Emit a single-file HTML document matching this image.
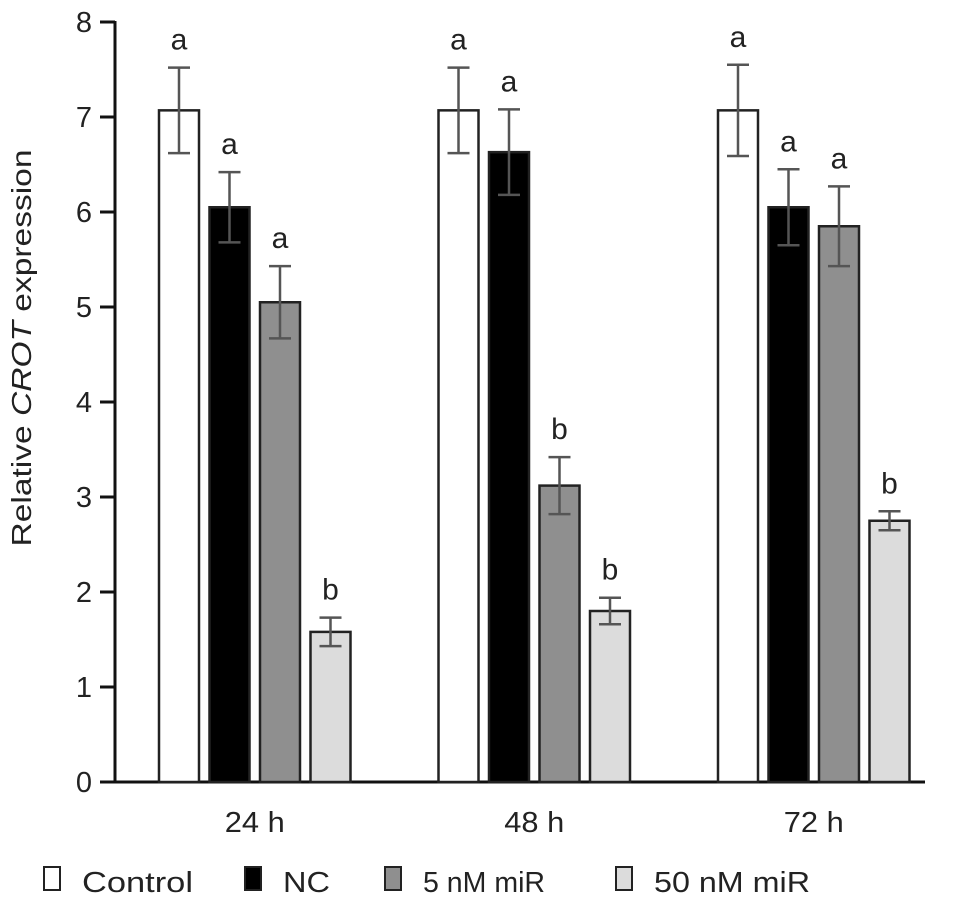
<!DOCTYPE html>
<html><head><meta charset="utf-8"><style>
body{margin:0;background:#fff}
svg text{font-family:"Liberation Sans",Arial,sans-serif;fill:#222}
</style></head><body>
<svg id="chart" width="969" height="909" xmlns="http://www.w3.org/2000/svg"></svg>
<script>
const groups=["24 h","48 h","72 h"];
const series=["Control","NC","5 nM miR","50 nM miR"];
const values=[[7.07,6.05,5.05,1.58],[7.07,6.63,3.12,1.80],[7.07,6.05,5.85,2.75]];
const errors=[[0.45,0.37,0.38,0.15],[0.45,0.45,0.30,0.14],[0.48,0.40,0.42,0.10]];
const letters=[["a","a","a","b"],["a","a","b","b"],["a","a","a","b"]];
const yTicks=[0,1,2,3,4,5,6,7,8];
const fills=["#ffffff","#000000","#8f8f8f","#dcdcdc"];
const svg=document.getElementById('chart');
const NS="http://www.w3.org/2000/svg";
function y(v){return 782-v*95;}
function gx(g,s){return 159+g*279.5+s*50.5;}
const BW=40;
function mk(tag,attrs,parent){const e=document.createElementNS(NS,tag);for(const k in attrs)e.setAttribute(k,attrs[k]);(parent||svg).appendChild(e);return e;}
let ax=mk('line',{x1:115,y1:y(8)-1,x2:115,y2:783,stroke:'#111','stroke-width':3});


let bx=mk('line',{x1:113,y1:782,x2:925,y2:782,stroke:'#111','stroke-width':3});


yTicks.forEach(t=>{
 let l=mk('line',{x1:100,y1:y(t),x2:115,y2:y(t),stroke:'#111','stroke-width':3});
 
 
 let tx=mk('text',{x:92,y:y(t)+10,'text-anchor':'end','font-size':29});
 tx.textContent=t;
 
 
});
let yl=mk('text',{transform:'translate(31,348) rotate(-90)','text-anchor':'middle','font-size':28,textLength:397,lengthAdjust:'spacingAndGlyphs'});
yl.innerHTML='Relative <tspan font-style="italic">CROT</tspan> expression';


groups.forEach((g,gi)=>{
 values[gi].forEach((v,si)=>{
  const x=gx(gi,si);
  let r=mk('rect',{x:x,y:y(v),width:BW,height:782-y(v),fill:fills[si],stroke:'#222','stroke-width':2.5});
  
  
  const cx=x+BW/2,e=errors[gi][si];
  let eg=mk('path',{d:`M${cx},${y(v+e)}V${y(v-e)}M${cx-11},${y(v+e)}H${cx+11}M${cx-11},${y(v-e)}H${cx+11}`,stroke:'#555','stroke-width':2.5,fill:'none'});
  
  
  let lt=mk('text',{x:cx,y:y(v+e)-18,'text-anchor':'middle','font-size':30});
  lt.textContent=letters[gi][si];
  
  
 });
 let gl=mk('text',{x:gx(gi,1.5)+BW/2,y:832,'text-anchor':'middle','font-size':29,textLength:60,lengthAdjust:'spacingAndGlyphs'});
 gl.textContent=g;
 
 
});
const legX=[44,245,385,616];
const legW=[111,47,122,156];
series.forEach((s,i)=>{
 let b=mk('rect',{x:legX[i],y:867,width:16,height:23,fill:fills[i],stroke:'#222','stroke-width':2});
 
 
 let t=mk('text',{x:legX[i]+(i==3?38:38),y:892,'font-size':29,textLength:legW[i],lengthAdjust:'spacingAndGlyphs'});
 t.textContent=s;
 
 
});
</script>
</body></html>
